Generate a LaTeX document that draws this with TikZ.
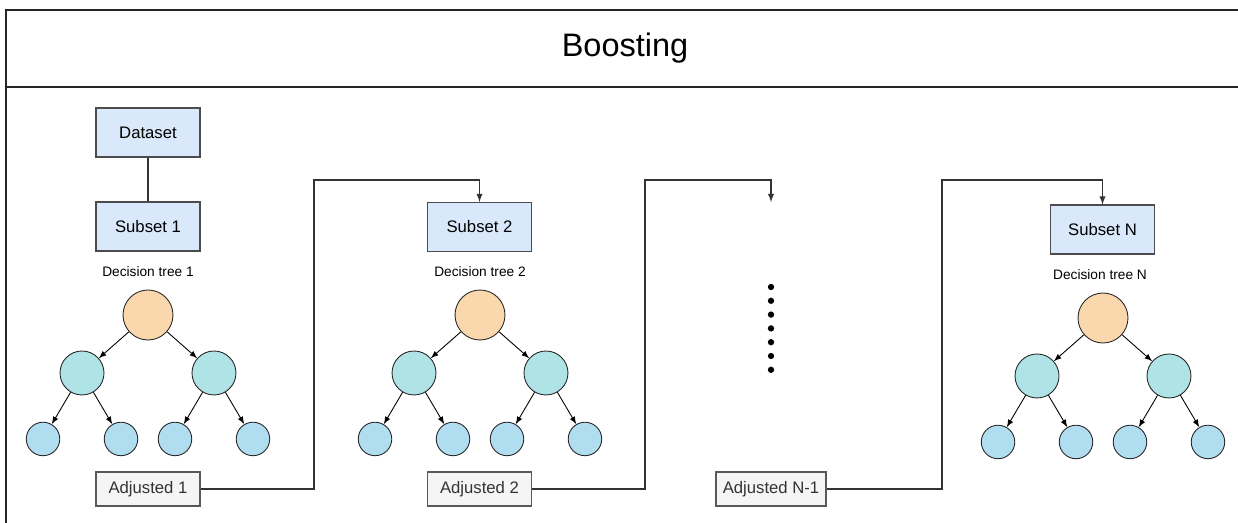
\documentclass[tikz,border=0pt]{standalone}
\usepackage{fontspec}
\setmainfont{Liberation Sans}
\usetikzlibrary{positioning}

\definecolor{subfill}{HTML}{DAE8FC}
\definecolor{adjfill}{HTML}{F5F5F5}
\definecolor{rootfill}{HTML}{FAD7AC}
\definecolor{midfill}{HTML}{B0E3E6}
\definecolor{leaffill}{HTML}{B1DDF0}

\begin{document}
\begin{tikzpicture}[x=0.02cm, y=-0.02cm,
        subset/.style={rectangle, draw=black!70, fill=subfill, line width=0.6pt, minimum width=2.08cm, minimum height=0.98cm, inner sep=0pt, font=\fontsize{9.5}{11}\selectfont},
        adjusted/.style={rectangle, draw=black!65, fill=adjfill, line width=0.6pt, minimum width=2.08cm, minimum height=0.68cm, inner sep=0pt, text=black!80, font=\fontsize{9.5}{11}\selectfont},
        treelabel/.style={inner sep=0pt, font=\fontsize{7.8}{9}\selectfont},
        root/.style={circle, draw=black!85, fill=rootfill, line width=0.5pt, minimum size=1cm, inner sep=0pt},
        mid/.style={circle, draw=black!85, fill=midfill, line width=0.5pt, minimum size=0.88cm, inner sep=0pt},
        leaf/.style={circle, draw=black!85, fill=leaffill, line width=0.5pt, minimum size=0.67cm, inner sep=0pt},
        branch/.style={->, line width=0.5pt, -latex},
        link/.style={line width=0.6pt, draw=black!80},
        dotnode/.style={circle, fill=black, minimum size=3.6pt, inner sep=0pt}
    ]
    \useasboundingbox (0,0) rectangle (1238,523);

        % Frame and title
        \draw[line width=0.7pt, black!85] (1240,10) -- (6,10) -- (6,525);
        \draw[line width=0.7pt, black!85] (6,87) -- (1240,87);
        \node (title) at (625,48) {\fontsize{18.5}{22}\selectfont Boosting};

        % Boxes
        \node[subset] (data) at (148,132.5) {Dataset};
        \node[subset] (sub1) at (148,226.5) {Subset 1};
        \node[subset] (sub2) at (479.5,227) {Subset 2};
        \node[subset] (subN) at (1102.5,229.5) {Subset N};

        \node[adjusted] (adj1) at (148,489) {Adjusted 1};
        \node[adjusted] (adj2) at (479.5,489) {Adjusted 2};
        \node[adjusted, minimum width=2.2cm] (adjN1) at (771,489) {Adjusted N-1};

        \node[treelabel] (dt1) at (148,272) {Decision tree 1};
        \node[treelabel] (dt2) at (480,272) {Decision tree 2};
        \node[treelabel] (dtN) at (1100,275) {Decision tree N};

        % Tree 1
        \node[root] (r1) at (148,315) {};
        \node[mid, below of = r1, xshift = -1.32cm, yshift = -0.16cm] (m11) {};
        \node[mid, below of = r1, xshift = 1.32cm, yshift = -0.16cm] (m12) {};
        \node[leaf, below of = m11, xshift = -0.78cm, yshift = -0.32cm] (l11) {};
        \node[leaf, below of = m11, xshift = 0.78cm, yshift = -0.32cm] (l12) {};
        \node[leaf, below of = m12, xshift = -0.78cm, yshift = -0.32cm] (l13) {};
        \node[leaf, below of = m12, xshift = 0.78cm, yshift = -0.32cm] (l14) {};

        % Tree 2
        \node[root] (r2) at (480,315) {};
        \node[mid, below of = r2, xshift = -1.32cm, yshift = -0.16cm] (m21) {};
        \node[mid, below of = r2, xshift = 1.32cm, yshift = -0.16cm] (m22) {};
        \node[leaf, below of = m21, xshift = -0.78cm, yshift = -0.32cm] (l21) {};
        \node[leaf, below of = m21, xshift = 0.78cm, yshift = -0.32cm] (l22) {};
        \node[leaf, below of = m22, xshift = -0.78cm, yshift = -0.32cm] (l23) {};
        \node[leaf, below of = m22, xshift = 0.78cm, yshift = -0.32cm] (l24) {};

        % Tree N
        \node[root] (rN) at (1103,318) {};
        \node[mid, below of = rN, xshift = -1.32cm, yshift = -0.16cm] (mN1) {};
        \node[mid, below of = rN, xshift = 1.32cm, yshift = -0.16cm] (mN2) {};
        \node[leaf, below of = mN1, xshift = -0.78cm, yshift = -0.32cm] (lN1) {};
        \node[leaf, below of = mN1, xshift = 0.78cm, yshift = -0.32cm] (lN2) {};
        \node[leaf, below of = mN2, xshift = -0.78cm, yshift = -0.32cm] (lN3) {};
        \node[leaf, below of = mN2, xshift = 0.78cm, yshift = -0.32cm] (lN4) {};

        % Dots
        \foreach \k in {0,...,6}
            \node[dotnode] (dot\k) at (771,{287+13.8*\k}) {};

        % Paths: branches
        \draw[branch] (r1) -- (m11);
        \draw[branch] (r1) -- (m12);
        \draw[branch] (m11) -- (l11);
        \draw[branch] (m11) -- (l12);
        \draw[branch] (m12) -- (l13);
        \draw[branch] (m12) -- (l14);

        \draw[branch] (r2) -- (m21);
        \draw[branch] (r2) -- (m22);
        \draw[branch] (m21) -- (l21);
        \draw[branch] (m21) -- (l22);
        \draw[branch] (m22) -- (l23);
        \draw[branch] (m22) -- (l24);

        \draw[branch] (rN) -- (mN1);
        \draw[branch] (rN) -- (mN2);
        \draw[branch] (mN1) -- (lN1);
        \draw[branch] (mN1) -- (lN2);
        \draw[branch] (mN2) -- (lN3);
        \draw[branch] (mN2) -- (lN4);

        % Paths: boosting chain
        \draw[link] (data) -- (sub1);

        \coordinate (up1) at (314,180);
        \coordinate (up2) at (645,180);
        \coordinate (up3) at (942,180);
        \coordinate (dotstop) at (771,202);

        \draw[link, -latex] (adj1) -| (up1) -| (sub2);
        \draw[link, -latex] (adj2) -| (up2) -| (dotstop);
        \draw[link, -latex] (adjN1) -| (up3) -| (subN);

    \end{tikzpicture}
\end{document}
